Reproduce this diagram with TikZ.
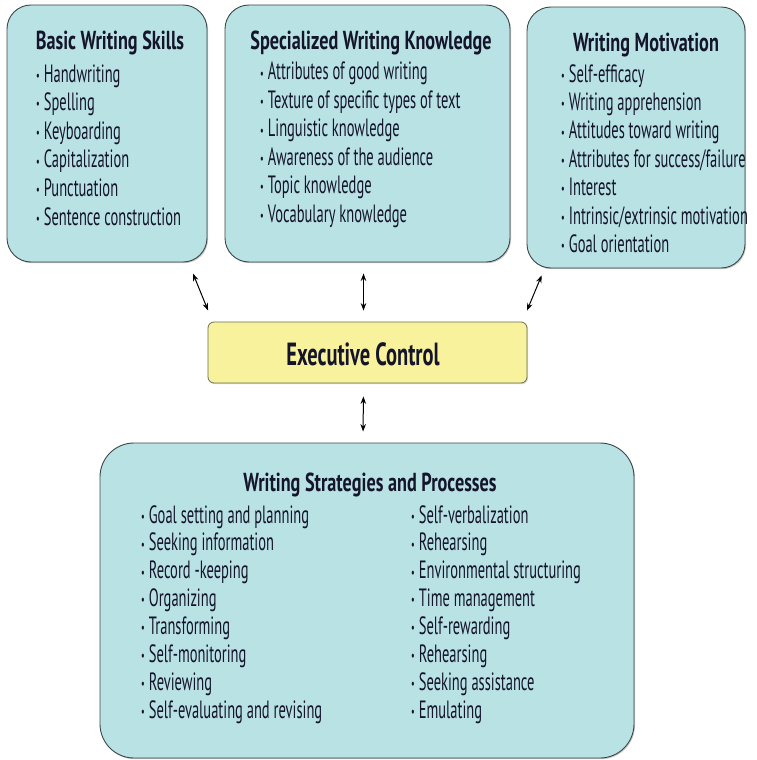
\documentclass[tikz,border=0pt]{standalone}
\usepackage{fontspec}
\setmainfont{PT Sans}[FakeStretch=0.58, BoldFeatures={FakeStretch=0.70}]
\newfontfamily\execfont{PT Sans}[FakeStretch=0.64]
\usetikzlibrary{arrows.meta,shadows}
\definecolor{boxfill}{HTML}{B9E2E5}
\definecolor{boxline}{HTML}{3C4848}
\definecolor{execfill}{HTML}{F8F29C}
\definecolor{execline}{HTML}{6E6E5A}
\definecolor{txt}{HTML}{14142A}
\newcommand{\bul}{{\fontsize{14}{14}\selectfont\raisebox{1.8pt}{•}}\hspace{4pt}}
\begin{document}
\begin{tikzpicture}[x=1pt,y=-1pt,
  box/.style={draw=boxline, line width=0.9pt, fill=boxfill, rounded corners=24pt, inner sep=0pt,
    drop shadow={shadow xshift=1pt,shadow yshift=-1.2pt,opacity=0.45}},
  execbox/.style={draw=execline, line width=0.8pt, fill=execfill, rounded corners=6pt, inner sep=0pt,
    drop shadow={shadow xshift=1pt,shadow yshift=-1.2pt,opacity=0.3}},
  itm/.style={anchor=base west, inner sep=0pt, font=\fontsize{25}{29}\selectfont, text=txt},
  ttl/.style={anchor=base, inner sep=0pt, font=\bfseries\fontsize{26}{30}\selectfont, text=txt},
  biarrow/.style={{Stealth[length=7.5pt,width=5.5pt]}-{Stealth[length=7.5pt,width=5.5pt]}, line width=1pt, black}
]
\useasboundingbox (0,0) rectangle (756,760);
\fill[white] (0,0) rectangle (756,760);

% boxes
\node[box, minimum width=200pt, minimum height=257pt] (basic) at (107,133.5) {};
\node[box, minimum width=285pt, minimum height=257pt] (spec) at (367.5,133.5) {};
\node[box, minimum width=218pt, minimum height=261pt] (mot) at (636,137.5) {};
\node[execbox, minimum width=319pt, minimum height=61pt] (exec) at (367.5,352.5) {};
\node[box, rounded corners=34pt, minimum width=534pt, minimum height=315pt] (strat) at (367,600.5) {};

% titles
\node[ttl] (basicT) at (110,50) {Basic Writing Skills};
\node[ttl] (specT) at (371,50) {Specialized Writing Knowledge};
\node[ttl] (motT) at (646,52) {Writing Motivation};
\node[ttl, font=\execfont\bfseries\fontsize{32}{36}\selectfont] (execT) at (363,365) {Executive Control};
\node[ttl] (stratT) at (370,491) {Writing Strategies and Processes};

% items
\foreach \t [count=\i] in {Handwriting, Spelling, Keyboarding, Capitalization, Punctuation, Sentence construction}
  \node[itm] (b\i) at (36,{82+28.6*(\i-1)}) {\bul\t};
\foreach \t [count=\i] in {Attributes of good writing, Texture of specific types of text, Linguistic knowledge, Awareness of the audience, Topic knowledge, Vocabulary knowledge}
  \node[itm] (s\i) at (260,{80+28.4*(\i-1)}) {\bul\t};
\foreach \t [count=\i] in {Self-efficacy, Writing apprehension, Attitudes toward writing, Attributes for success/failure, Interest, Intrinsic/extrinsic motivation, Goal orientation}
  \node[itm] (m\i) at (561,{82+28.4*(\i-1)}) {\bul\t};
\foreach \t [count=\i] in {Goal setting and planning, Seeking information, Record -keeping, Organizing, Transforming, Self-monitoring, Reviewing, Self-evaluating and revising}
  \node[itm] (p\i) at (141,{523+27.9*(\i-1)}) {\bul\t};
\foreach \t [count=\i] in {Self-verbalization, Rehearsing, Environmental structuring, Time management, Self-rewarding, Rehearsing, Seeking assistance, Emulating}
  \node[itm] (q\i) at (411,{523+27.9*(\i-1)}) {\bul\t};

% connectors
\draw[biarrow, shorten <=12pt, shorten >=12pt] ([xshift=-19pt]basic.south east) -- ([xshift=5pt]exec.north west);
\draw[biarrow, shorten <=11pt, shorten >=11pt] ([xshift=-4pt]spec.south) -- ([xshift=-4pt]exec.north);
\draw[biarrow, shorten <=7.5pt, shorten >=12pt] ([xshift=18pt]mot.south west) -- ([xshift=-5pt]exec.north east);
\draw[biarrow, shorten <=13pt, shorten >=11pt] ([xshift=-4pt]exec.south) -- ([xshift=-4pt]strat.north);
\end{tikzpicture}
\end{document}
